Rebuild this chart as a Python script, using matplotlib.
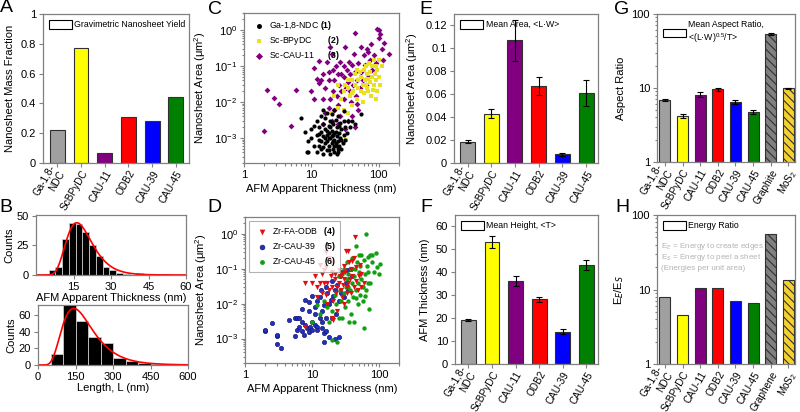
import numpy as np
import matplotlib
matplotlib.use("Agg")
import matplotlib.pyplot as plt
from matplotlib.patches import Patch

plt.rcParams['font.family'] = ['Liberation Sans', 'DejaVu Sans']
plt.rcParams['mathtext.fontset'] = 'custom'
plt.rcParams['mathtext.rm'] = 'Liberation Sans'
plt.rcParams['mathtext.bf'] = 'Liberation Sans:bold'
plt.rcParams['axes.edgecolor'] = '#808080'
plt.rcParams['xtick.color'] = '#808080'
plt.rcParams['ytick.color'] = '#808080'
plt.rcParams['xtick.labelcolor'] = 'black'
plt.rcParams['ytick.labelcolor'] = 'black'
plt.rcParams['hatch.linewidth'] = 0.8

# ---- data ----
mofs = ["Ga-1,8-\nNDC", "ScBPyDC", "CAU-11", "ODB2", "CAU-39", "CAU-45"]
mof_colors = ["#a0a0a0", "#ffff00", "#800080", "#ff0000", "#0000ff", "#008000"]
yield_frac = [0.22, 0.77, 0.065, 0.31, 0.28, 0.44]

mean_area = [0.0185, 0.043, 0.107, 0.067, 0.0075, 0.061]
mean_area_err = [0.0012, 0.0038, 0.018, 0.008, 0.001, 0.011]
mean_height = [19.1, 53.1, 36.2, 28.2, 14.1, 43.3]
mean_height_err = [0.5, 2.6, 2.2, 1.2, 1.0, 2.1]

aspect_labels = mofs + ["Graphite", "MoS$_2$"]
aspect = [6.9, 4.2, 8.1, 9.6, 6.5, 4.8, 54, 9.9]
aspect_err = [0.2, 0.25, 0.6, 0.45, 0.4, 0.3, 1.5, 0.2]
energy_labels = mofs + ["Graphene", "MoS$_2$"]
energy_ratio = [8.0, 4.5, 10.5, 10.6, 7.0, 6.5, 55, 13.5]
ref_colors = ["#808080", "#f5d130"]

# thickness histogram (nm) and lognormal fit (peak, height, width)
thick_bins = [5.0, 7.7, 10.4, 13.1, 15.8, 18.5, 21.2, 23.9, 26.6, 29.3, 32.0, 34.7, 40.1, 51.0]
thick_counts = [4, 7, 30, 44, 43, 36, 25, 16, 7, 4, 2, 1, 2, 1]
thick_fit = [16.3, 44, 0.32]
# length histogram (nm)
len_bins = [50, 100, 150, 200, 250, 300, 350, 400, 450]
len_counts = [13, 78, 53, 34, 26, 8, 5, 2, 1]
len_fit = [143, 68, 0.43]

# scatter C: (thickness nm, area um^2)
ga_t = [7, 8, 8.5, 9, 9, 10, 10, 11, 11, 12, 12, 12, 13, 13, 13, 14, 14, 14, 15, 15, 15, 15,
        16, 16, 16, 17, 17, 17, 17, 18, 18, 18, 19, 19, 19, 20, 20, 20, 21, 21, 21, 22, 22, 22,
        23, 23, 24, 24, 24, 25, 25, 25, 26, 26, 27, 27, 28, 28, 29, 30, 30, 31, 32, 32, 34, 35,
        38, 40, 45, 55, 16, 18, 20, 22, 14, 19, 23, 26, 13, 17, 21, 24, 15, 18, 20, 22, 25, 28]
ga_a = [3.5e-3, 1.5e-3, 4e-4, 4e-4, 8e-4, 1.8e-3, 1e-3, 2.2e-3, 6e-4, 1.2e-3, 3e-3, 4e-4, 6e-4,
        2e-3, 9e-4, 1.5e-3, 4e-3, 5e-4, 3.5e-4, 1.1e-3, 2.5e-3, 6e-3, 7e-4, 1.8e-3, 3.5e-3,
        4.5e-4, 1.2e-3, 8e-4, 5e-3, 2.2e-3, 6e-4, 1.4e-3, 3.5e-4, 1e-3, 3e-3, 7e-4, 1.6e-3,
        4.5e-3, 5e-4, 1.2e-3, 2.4e-3, 9e-4, 6e-3, 4e-4, 1.5e-3, 3.2e-3, 6e-4, 1.1e-3, 2e-3,
        4e-4, 8e-4, 4e-3, 1.4e-3, 6e-4, 2.6e-3, 1e-3, 5e-4, 1.8e-3, 7e-4, 1.2e-3, 3e-3, 5.5e-3,
        9e-4, 2e-3, 1.4e-3, 3e-3, 2e-3, 3e-3, 2.5e-3, 4.5e-3, 1e-3, 1e-3, 1.1e-3, 1.4e-3, 8e-4,
        2e-3, 7e-4, 2.2e-3, 1.3e-3, 1.6e-3, 8e-4, 3.5e-4, 5.5e-4, 4.5e-4, 2.8e-3, 6e-4, 5e-4, 9e-4]
sc_t = [20, 22, 25, 28, 30, 32, 33, 35, 35, 38, 40, 40, 42, 45, 45, 48, 50, 50, 52, 55, 55, 58,
        60, 60, 62, 65, 65, 68, 70, 70, 72, 75, 75, 78, 80, 80, 85, 85, 88, 90, 90, 95, 95, 100,
        100, 105, 110, 30, 25, 48, 58, 68, 82, 92, 40, 35]
sc_a = [5e-3, 1.5e-2, 3e-2, 1.2e-2, 2e-2, 3e-2, 9e-4, 5e-3, 2.5e-2, 1.5e-2, 4e-2, 8e-3, 2e-2,
        3e-2, 6e-2, 1.2e-2, 4e-2, 2.5e-2, 7e-2, 2e-2, 5e-2, 3e-2, 8e-2, 1.8e-2, 4e-2, 1e-1,
        3e-2, 6e-2, 2e-2, 4.5e-2, 1.2e-1, 3.5e-2, 7e-2, 1.5e-2, 5e-2, 1e-1, 3e-2, 1.5e-1, 6e-2,
        4e-2, 1.2e-2, 8e-2, 2e-2, 1.5e-1, 5e-2, 3e-2, 1e-1, 6e-3, 7e-3, 8e-2, 1e-2, 2.5e-2,
        2.2e-2, 1e-1, 1.8e-2, 4e-2]
cau11_t = [2, 2.2, 2.8, 3.3, 5, 6, 10, 11, 11, 12, 13, 13, 14, 15, 15, 16, 16, 17, 18, 18, 19,
           19, 20, 20, 21, 21, 22, 22, 23, 24, 25, 25, 26, 27, 27, 28, 28, 30, 30, 31, 32, 32,
           33, 34, 35, 36, 37, 38, 39, 40, 40, 42, 43, 44, 45, 46, 48, 50, 50, 52, 55, 55, 58,
           60, 62, 65, 67, 70, 70, 75, 78, 80, 85, 90, 95, 100, 100, 105, 110, 115, 140, 120,
           15, 18, 25, 35, 45, 48]
cau11_a = [1.6e-3, 2.2e-2, 1.3e-2, 9e-3, 2.1e-3, 2.2e-2, 2e-2, 9e-2, 1.2e-2, 4.5e-2, 3.3e-2,
           1.4e-1, 4e-2, 1.2e-2, 6e-2, 2.5e-2, 5e-3, 1.3e-1, 7e-2, 4e-2, 3.5e-1, 1.2e-2, 2.2e-1,
           3e-3, 8e-2, 2e-2, 6e-3, 4e-2, 1e-1, 1.5e-2, 6e-2, 8e-3, 3e-2, 1.3e-1, 4e-3, 2e-2,
           6e-2, 1e-1, 1.2e-2, 5e-2, 3.5e-1, 1.8e-3, 2.5e-2, 8e-2, 3.5e-2, 1.3e-1, 2e-2, 6e-2,
           1e-2, 1.1e-1, 4e-3, 3e-2, 2.2e-1, 7e-2, 8.5e-1, 1.5e-2, 4e-2, 1.2e-1, 6e-3, 2.5e-2,
           3.5e-1, 7e-2, 4e-2, 2e-1, 1.1e-1, 3e-2, 3e-1, 5e-2, 2.5e-1, 1.5e-1, 4e-1, 8e-2, 2e-1,
           1.2e-1, 1.1, 6e-1, 1.0, 8e-1, 3e-1, 1.5e-1, 2.2e-1, 4.5e-1, 2.5e-3, 7e-3, 2.5e-3,
           3e-3, 2e-3, 9e-3]

# scatter D
odb_t = [8, 8, 10, 11, 12, 12, 13, 13, 14, 14, 15, 15, 16, 16, 16, 17, 17, 18, 18, 19, 19, 20,
         20, 20, 21, 22, 22, 23, 24, 25, 25, 26, 27, 28, 28, 29, 30, 30, 31, 32, 33, 34, 35, 35,
         36, 37, 38, 38, 40, 40, 42, 43, 44, 45, 46, 48, 50, 52, 55, 55, 24, 21, 30, 60]
odb_a = [4e-2, 2.2e-3, 4e-2, 6e-2, 1.5e-2, 3e-2, 4e-2, 1.3e-1, 2e-2, 7e-2, 9e-2, 4e-2, 1.8e-2,
         3e-1, 1.1e-1, 4e-2, 1e-2, 2.5e-2, 2e-1, 6e-2, 1.5e-1, 3e-2, 4e-3, 8e-2, 1.2e-2, 5e-2,
         7e-2, 2e-2, 3e-2, 4e-2, 9e-2, 6e-2, 2.5e-2, 7e-2, 1.5e-2, 3.5e-2, 5e-2, 1.2e-1, 8e-2,
         3.3e-1, 2e-2, 3e-2, 3.2e-1, 4e-2, 1.5e-1, 5e-2, 1e-1, 2e-2, 6e-2, 1.7e-1, 3e-2, 2e-1,
         8e-1, 4.5e-2, 1.1e-1, 2.5e-2, 6e-2, 1.3e-1, 3e-2, 7e-2, 6e-3, 3.5e-3, 1e-2, 4e-2]
cau39_t = [2.0, 2.0, 2.5, 3.0, 3.0, 3.5, 3.0, 4.5, 5.5, 6, 6.5, 5.5, 6, 6.5, 7, 7, 7.5, 8, 8,
           8.5, 9, 9, 9.5, 10, 10, 10, 11, 11, 12, 12, 13, 13, 13.5, 14, 14, 15, 15, 15, 16, 16,
           17, 18, 18, 19, 20, 20, 21, 22, 22, 23, 24, 25, 25, 26, 27, 28, 30, 32, 33, 35, 38,
           40, 12, 9, 7, 11, 16, 14]
cau39_a = [1.7e-3, 1.8e-3, 2.8e-3, 1.2e-3, 7e-4, 5.5e-4, 1.3e-3, 3.5e-3, 4e-3, 4e-3, 4e-3,
           1.2e-3, 1.8e-3, 2.2e-3, 1.6e-3, 7e-3, 1.3e-3, 2.5e-3, 1.3e-2, 2e-3, 1.5e-3, 1.1e-2,
           2.2e-3, 1.8e-3, 1.6e-2, 3e-3, 2.5e-3, 8e-3, 2.2e-3, 1.2e-2, 4e-3, 1.5e-2, 2.4e-2, 2e-3,
           6e-3, 8e-4, 1.4e-3, 9e-3, 4e-3, 3e-2, 2e-2, 1e-2, 1.1e-3, 1.3e-2, 4e-3, 4.5e-2,
           1.6e-2, 2.5e-2, 1e-3, 5e-3, 3.5e-2, 1.2e-2, 1.1e-3, 6e-2, 2e-2, 8e-2, 1.5e-2, 4e-2,
           9e-2, 2.5e-2, 1e-1, 6e-2, 1.8e-3, 6e-3, 3e-3, 5e-3, 1.6e-3, 3e-3]
cau45_t = [10, 12, 13, 15, 17, 18, 20, 20, 22, 23, 24, 25, 25, 26, 27, 28, 28, 30, 30, 31, 32,
           33, 34, 35, 35, 36, 37, 38, 38, 40, 40, 41, 42, 43, 44, 45, 46, 47, 48, 48, 50, 50,
           52, 53, 55, 55, 57, 58, 60, 60, 62, 65, 65, 67, 70, 70, 72, 75, 78, 80, 85, 90, 95,
           100, 105, 75, 35, 45, 63, 68]
cau45_a = [3e-3, 9e-3, 5e-3, 1.2e-2, 8e-3, 3e-3, 9e-4, 6e-3, 1.8e-2, 1e-2, 8e-4, 4e-3, 6e-2,
           2.5e-2, 1.2e-2, 7e-2, 4e-3, 1e-1, 2e-2, 8e-3, 3e-2, 5e-2, 1.6e-1, 1.2e-2, 7e-2, 3e-3,
           2.5e-2, 1e-1, 5e-3, 2e-1, 4e-2, 1.5e-2, 6e-2, 3e-3, 1e-1, 2.5e-2, 4.5e-1, 1.5e-1,
           1e-2, 4e-2, 2.4e-1, 8e-2, 1.8e-2, 1.2e-1, 5e-2, 2.5e-1, 3e-2, 1.2e-2, 2e-3, 1.8e-1,
           7e-2, 1.0, 2.5e-2, 1.2e-1, 8e-2, 2.2e-1, 7e-3, 4e-2, 1.5e-1, 2.5e-1, 8e-2, 2.8e-1,
           1.1e-1, 7e-2, 1.4e-1, 2.5e-1, 3e-2, 1.4e-2, 1.6e-2, 4e-2]

W, H = 800, 412
TICK_FS = 8
LAB_FS = 8


def px_axes(fig, left, top, right, bottom):
    return fig.add_axes([left / W, 1 - bottom / H, (right - left) / W, (bottom - top) / H])


def style(ax):
    ax.tick_params(which='both', labelsize=TICK_FS, direction='out', length=3, width=0.8, pad=2)
    ax.tick_params(which='minor', length=1.8)
    for s in ax.spines.values():
        s.set_linewidth(0.9)


def box_legend(ax, label, fs=6.3):
    h = [Patch(facecolor='white', edgecolor='black', linewidth=0.8)]
    ax.legend(h, [label], loc='upper left', frameon=False, fontsize=fs,
              handlelength=2.6, handleheight=1.1, borderaxespad=0.3, handletextpad=0.3)


def lognorm(x, p):
    xc, a, w = p
    return a * np.exp(-np.log(x / xc) ** 2 / (2 * w ** 2))


def cat_xticks(ax, labels):
    ax.set_xticks(range(len(labels)))
    ax.set_xticklabels(labels, rotation=60, ha='right', rotation_mode='anchor', fontsize=7.2)
    ax.tick_params(axis='x', pad=1)
    # two-line label: keep its last line at the tick
    ax.get_xticklabels()[0].set_va('center')


fig = plt.figure(figsize=(W / 100, H / 100), dpi=100)
bar_kw = dict(width=0.63, edgecolor='#303030', linewidth=0.8)
ekw = dict(ecolor='black', elinewidth=0.8, capsize=2, capthick=0.8)

# ---- A: yield ----
ax = px_axes(fig, 43, 14, 189, 163)
ax.bar(range(6), yield_frac, color=mof_colors, **bar_kw)
ax.set_ylim(0, 1)
ax.set_xlim(-0.6, 5.55)
ax.set_yticks([0, 0.2, 0.4, 0.6, 0.8, 1])
ax.set_yticklabels(["0", "0.2", "0.4", "0.6", "0.8", "1"])
style(ax)
cat_xticks(ax, mofs)
ax.set_ylabel("Nanosheet Mass Fraction", fontsize=LAB_FS)
box_legend(ax, "Gravimetric Nanosheet Yield")

# ---- B: histograms ----
ax = px_axes(fig, 36, 215, 186, 275)
ax.bar(thick_bins, thick_counts, width=2.7, align='edge', color='black', edgecolor='#c8c8c8', linewidth=0.6)
xs = np.linspace(0.5, 60, 300)
ax.plot(xs, lognorm(xs, thick_fit), color='red', lw=1.2)
ax.set_xlim(0, 60)
ax.set_ylim(0, 50.5)
ax.set_xticks([15, 30, 45, 60])
ax.set_yticks([0, 25, 50])
ax.set_xlabel("AFM Apparent Thickness (nm)", fontsize=LAB_FS, labelpad=1)
ax.set_ylabel("Counts", fontsize=LAB_FS, labelpad=2)
style(ax)

ax = px_axes(fig, 38, 305, 188, 365)
ax.bar(len_bins, len_counts, width=50, align='edge', color='black', edgecolor='#c8c8c8', linewidth=0.6)
xs = np.linspace(1, 600, 400)
ax.plot(xs, lognorm(xs, len_fit), color='red', lw=1.2)
ax.set_xlim(0, 600)
ax.set_ylim(0, 72)
ax.set_xticks([0, 150, 300, 450, 600])
ax.set_yticks([0, 20, 40, 60])
ax.set_xlabel("Length, L (nm)", fontsize=LAB_FS, labelpad=1)
ax.set_ylabel("Counts", fontsize=LAB_FS, labelpad=2)
style(ax)


def scatter_axes(ax):
    ax.set_xscale('log')
    ax.set_yscale('log')
    ax.set_xlim(1, 200)
    ax.set_ylim(2e-4, 3)
    ax.set_xticks([1, 10, 100])
    ax.set_xticklabels(["1", "10", "100"])
    ax.set_yticks([1e-3, 1e-2, 1e-1, 1])
    ax.set_yticklabels(["10$^{-3}$", "10$^{-2}$", "10$^{-1}$", "10$^{0}$"])
    ax.set_xlabel("AFM Apparent Thickness (nm)", fontsize=LAB_FS, labelpad=3)
    ax.set_ylabel("Nanosheet Area (μm$^2$)", fontsize=LAB_FS)
    style(ax)


# ---- C ----
ax = px_axes(fig, 244, 13, 399, 163)
ax.scatter(cau11_t, cau11_a, marker='D', s=9, color='#800080', linewidths=0,
           label="Sc-CAU-11      $\\mathbf{(3)}$", zorder=2)
ax.scatter(sc_t, sc_a, marker='s', s=8, color='#e8e020', linewidths=0,
           label="Sc-BPyDC       $\\mathbf{(2)}$", zorder=3)
ax.scatter(ga_t, ga_a, marker='o', s=9, color='black', linewidths=0,
           label="Ga-1,8-NDC $\\mathbf{(1)}$", zorder=4)
hnd, lab = ax.get_legend_handles_labels()
ax.legend(hnd[::-1], lab[::-1], loc='upper left', frameon=False, fontsize=6.3,
          handletextpad=0.2, borderaxespad=0.3, labelspacing=0.25, markerscale=1.2)
scatter_axes(ax)

# ---- D ----
ax = px_axes(fig, 245, 217, 399, 363)
ax.scatter(odb_t, odb_a, marker='v', s=14, color='#e01010', linewidths=0,
           label="Zr-FA-ODB   $\\mathbf{(4)}$", zorder=3)
ax.scatter(cau39_t, cau39_a, marker='o', s=10, color='#2030c0', edgecolors='#101060',
           linewidths=0.4, label="Zr-CAU-39    $\\mathbf{(5)}$", zorder=2)
ax.scatter(cau45_t, cau45_a, marker='o', s=10, color='#10a010', linewidths=0,
           label="Zr-CAU-45    $\\mathbf{(6)}$", zorder=2)
leg = ax.legend(loc='upper left', frameon=True, fontsize=6.3, fancybox=False,
                handletextpad=0.2, borderaxespad=0.5, labelspacing=0.25, markerscale=1.1)
leg.get_frame().set_edgecolor('#a0a0a0')
leg.get_frame().set_linewidth(0.8)
scatter_axes(ax)

# ---- E ----
ax = px_axes(fig, 454, 14, 598, 163)
ax.bar(range(6), mean_area, color=mof_colors, yerr=mean_area_err, error_kw=ekw, **bar_kw)
ax.set_ylim(0, 0.13)
ax.set_xlim(-0.57, 5.5)
ax.set_yticks([0, 0.02, 0.04, 0.06, 0.08, 0.1, 0.12])
ax.set_yticklabels(["0", "0.02", "0.04", "0.06", "0.08", "0.1", "0.12"])
style(ax)
cat_xticks(ax, mofs)
ax.set_ylabel("Nanosheet Area (μm$^2$)", fontsize=LAB_FS)
box_legend(ax, "Mean Area, <L·W>")

# ---- F ----
ax = px_axes(fig, 455, 215, 598, 364)
ax.bar(range(6), mean_height, color=mof_colors, yerr=mean_height_err, error_kw=ekw, **bar_kw)
ax.set_ylim(0, 65)
ax.set_xlim(-0.57, 5.5)
ax.set_yticks(range(0, 61, 10))
style(ax)
cat_xticks(ax, mofs)
ax.set_ylabel("AFM Thickness (nm)", fontsize=LAB_FS)
box_legend(ax, "Mean Height, <T>")


def log_bar_axes(ax, labels):
    ax.set_yscale('log')
    ax.set_ylim(1, 100)
    ax.set_xlim(-0.45, 7.38)
    ax.set_yticks([1, 10, 100])
    ax.set_yticklabels(["1", "10", "100"])
    style(ax)
    cat_xticks(ax, labels)


# ---- G ----
ax = px_axes(fig, 657, 14, 795, 162)
ax.bar(range(6), aspect[:6], color=mof_colors, yerr=aspect_err[:6], error_kw=ekw, **bar_kw)
ax.bar([6, 7], aspect[6:], color=ref_colors, hatch='\\\\\\\\', yerr=aspect_err[6:],
       error_kw=ekw, **bar_kw)
log_bar_axes(ax, aspect_labels)
ax.set_ylabel("Aspect Ratio", fontsize=LAB_FS)
box_legend(ax, "Mean Aspect Ratio,\n<(L·W)$^{0.5}$/T>")

# ---- H ----
ax = px_axes(fig, 657, 215, 795, 364)
ax.bar(range(6), energy_ratio[:6], color=mof_colors, **bar_kw)
ax.bar([6, 7], energy_ratio[6:], color=ref_colors, hatch='\\\\\\\\', **bar_kw)
log_bar_axes(ax, energy_labels)
ax.set_ylabel("E$_E$/E$_S$", fontsize=LAB_FS)
box_legend(ax, "Energy Ratio")
for yy, txt in [(0.79, "E$_E$ = Energy to create edges"),
                (0.715, "E$_S$ = Energy to peel a sheet"),
                (0.64, "(Energies per unit area)")]:
    ax.text(0.03, yy, txt, transform=ax.transAxes, fontsize=5.8, color='#b4b4b4', va='center')

# panel letters
for letter, x, y in [("A", 6, 8), ("B", 6, 207), ("C", 215, 10), ("D", 214, 207),
                     ("E", 426, 10), ("F", 426, 207), ("G", 622, 10), ("H", 622, 207)]:
    fig.text(x / W, 1 - y / H, letter, fontsize=14, ha='center', va='center')

fig.savefig("out.png", dpi=100)
